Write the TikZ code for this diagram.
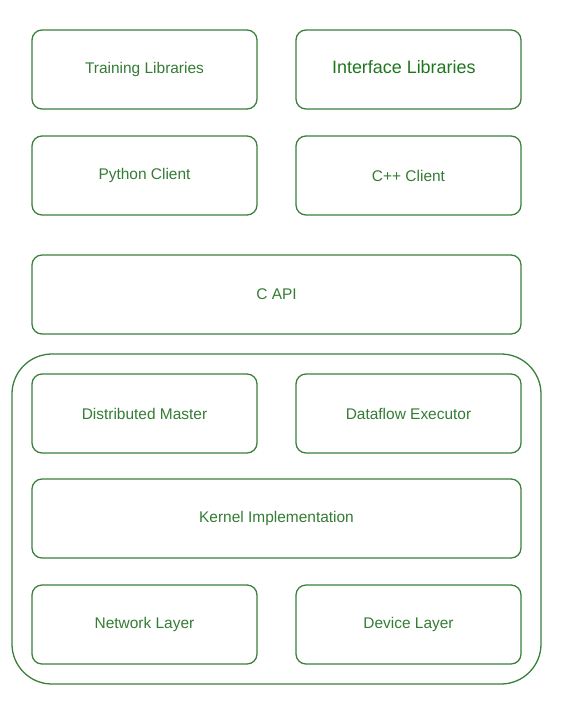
\documentclass[tikz,border=0pt]{standalone}
\usepackage{fontspec}
\setmainfont{Liberation Sans}
\definecolor{edge}{RGB}{58,128,58}
\definecolor{txt}{RGB}{52,124,52}
\definecolor{txtdark}{RGB}{28,118,28}
\begin{document}
\begin{tikzpicture}[x=0.03cm, y=-0.03cm,
  layer/.style={draw=edge, line width=1.1pt, rounded corners=0.3cm, minimum width=6.75cm, minimum height=2.37cm, text=txt, font=\fontsize{13.2}{15}\selectfont, inner sep=0pt},
  wide/.style={layer, minimum width=14.67cm}]
\useasboundingbox (0,0) rectangle (564,728);
\node[layer] (train) at (144.5,69.5) {Training Libraries};
\node[layer, text=txtdark, font=\fontsize{15.3}{17}\selectfont] (iface) at (408.5,69.5) {\hspace*{-8pt}\raisebox{5pt}{Interface Libraries}};
\node[layer] (py) at (144.5,175.5) {Python Client};
\node[layer] (cpp) at (408.5,175.5) {C++ Client};
\node[wide] (capi) at (276.5,294.5) {C API};
% runtime core
\node[draw=edge, line width=1.1pt, rounded corners=1.2cm, minimum width=15.87cm, minimum height=9.9cm] (core) at (276.5,519) {};
\node[layer] (master) at (144.5,413.5) {Distributed Master};
\node[layer] (exec) at (408.5,413.5) {Dataflow Executor};
\node[wide] (kernel) at (276.5,518.5) {Kernel Implementation};
\node[layer] (net) at (144.5,624.5) {Network Layer};
\node[layer] (dev) at (408.5,624.5) {Device Layer};
\end{tikzpicture}
\end{document}
